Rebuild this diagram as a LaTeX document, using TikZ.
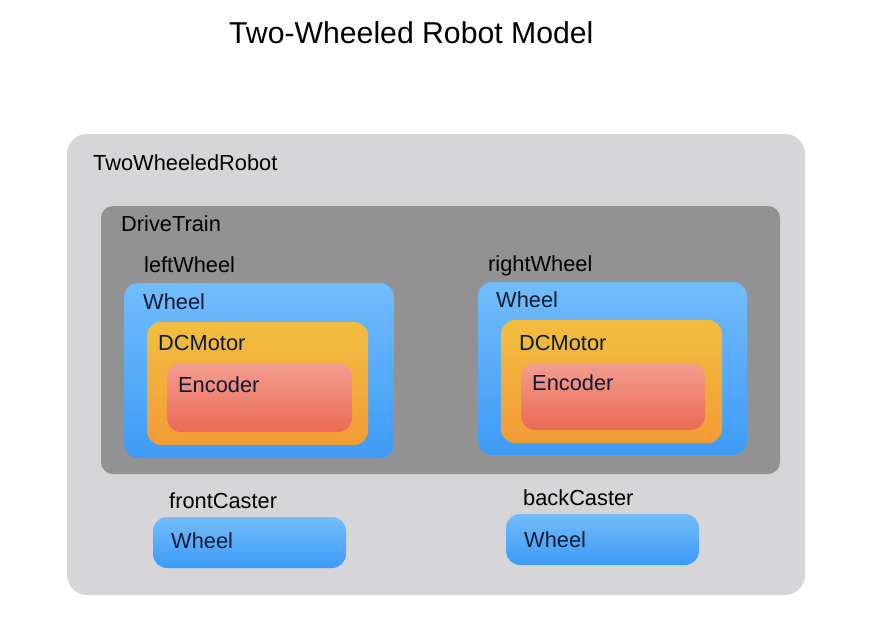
\documentclass[tikz,border=0pt]{standalone}
\usepackage{fontspec}
\setmainfont{Liberation Sans}
\begin{document}
\begin{tikzpicture}[x=1pt,y=-1pt,
  box/.style={inner sep=0pt, outer sep=0pt, anchor=north west},
  robotbox/.style={box, fill=robotgray, rounded corners=20pt},
  trainbox/.style={box, fill=traingray, rounded corners=12pt},
  wheelbox/.style={box, top color=wheeltop, bottom color=wheelbot, rounded corners=14pt},
  motorbox/.style={box, top color=motortop, bottom color=motorbot, rounded corners=14pt},
  encbox/.style={box, top color=enctop, bottom color=encbot, rounded corners=14pt},
  lbl/.style={anchor=base west, inner sep=0pt, font=\fontsize{21.8}{26}\selectfont, text=black},
  inlbl/.style={lbl, text=inktext},
]
\definecolor{robotgray}{HTML}{D6D5D7}
\definecolor{traingray}{HTML}{929292}
\definecolor{wheeltop}{HTML}{72BCFA}
\definecolor{wheelbot}{HTML}{3E9BF7}
\definecolor{motortop}{HTML}{F2BE3F}
\definecolor{motorbot}{HTML}{F29B36}
\definecolor{enctop}{HTML}{F39D8F}
\definecolor{encbot}{HTML}{EC6A55}
\definecolor{inktext}{HTML}{0B1A33}
\useasboundingbox[fill=white] (0,0) rectangle (877,643);

% title
\node[lbl, font=\fontsize{30.2}{35}\selectfont] (title) at (229,43) {Two-Wheeled Robot Model};

% outer robot
\node[robotbox, minimum width=738pt, minimum height=461pt] (robot) at (67,134) {};
\node[lbl] (robotlbl) at (93,170) {TwoWheeledRobot};

% drive train
\node[trainbox, minimum width=679pt, minimum height=268pt] (train) at (101,206) {};
\node[lbl] (trainlbl) at (121,231) {DriveTrain};

% left wheel
\node[lbl] (leftlbl) at (144,272) {leftWheel};
\node[wheelbox, minimum width=270pt, minimum height=175pt] (lwheel) at (124,283) {};
\node[inlbl] (lwheellbl) at (143,309) {Wheel};
\node[motorbox, minimum width=221pt, minimum height=123pt] (lmotor) at (147,322) {};
\node[inlbl] (lmotorlbl) at (158,350) {DCMotor};
\node[encbox, minimum width=185pt, minimum height=69pt] (lenc) at (167,363) {};
\node[inlbl] (lenclbl) at (178,392) {Encoder};

% right wheel
\node[lbl] (rightlbl) at (488,271) {rightWheel};
\node[wheelbox, minimum width=269pt, minimum height=173pt] (rwheel) at (478,282) {};
\node[inlbl] (rwheellbl) at (496,307) {Wheel};
\node[motorbox, minimum width=221pt, minimum height=123pt] (rmotor) at (501,320) {};
\node[inlbl] (rmotorlbl) at (519,350) {DCMotor};
\node[encbox, minimum width=184pt, minimum height=67pt] (renc) at (521,363) {};
\node[inlbl] (renclbl) at (532,390) {Encoder};

% casters
\node[lbl] (frontlbl) at (169,508) {frontCaster};
\node[wheelbox, minimum width=193pt, minimum height=51pt] (fwheel) at (153,517) {};
\node[inlbl] (fwheellbl) at (171,548) {Wheel};

\node[lbl] (backlbl) at (523,505) {backCaster};
\node[wheelbox, minimum width=193pt, minimum height=51pt] (bwheel) at (506,514) {};
\node[inlbl] (bwheellbl) at (524,547) {Wheel};
\end{tikzpicture}
\end{document}
